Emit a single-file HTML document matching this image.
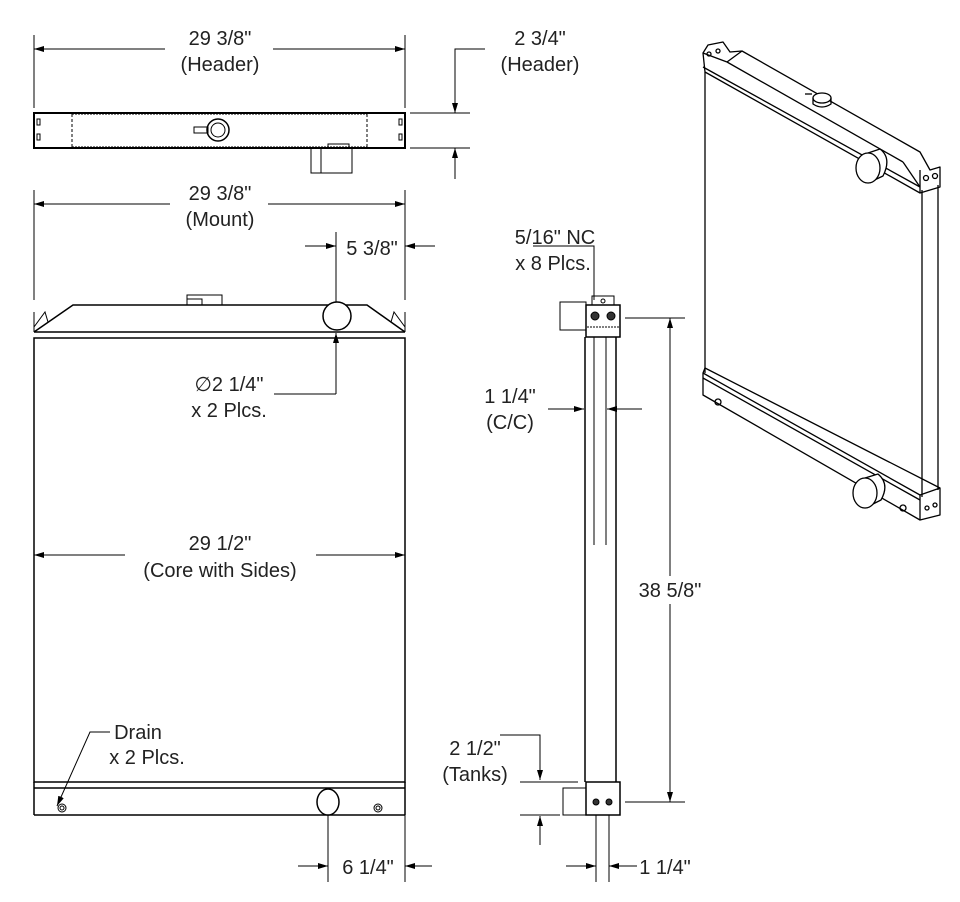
<!DOCTYPE html>
<html><head><meta charset="utf-8"><style>
html,body{margin:0;padding:0;background:#fff}
svg{display:block}
text{font-family:"Liberation Sans",sans-serif;font-size:20px;fill:#222;text-anchor:middle}
</style></head><body>
<svg width="960" height="902" viewBox="0 0 960 902" xmlns="http://www.w3.org/2000/svg">
<defs>
<marker id="a" viewBox="0 0 10 6" refX="10" refY="3" markerWidth="10" markerHeight="6" orient="auto-start-reverse" markerUnits="userSpaceOnUse"><path d="M0,0 L10,3 L0,6z" fill="#000"/></marker>
</defs>
<g stroke="#000" fill="none" stroke-width="1">
<line x1="34" y1="35" x2="34" y2="108"/><line x1="405" y1="35" x2="405" y2="108"/>
<line x1="34" y1="49" x2="165" y2="49" marker-start="url(#a)"/><line x1="273" y1="49" x2="405" y2="49" marker-end="url(#a)"/>
<rect x="34" y="113" width="371" height="35" stroke-width="2"/>
<line x1="72" y1="114" x2="72" y2="147" stroke-dasharray="3,2"/><line x1="367" y1="114" x2="367" y2="147" stroke-dasharray="3,2"/>
<line x1="72" y1="114" x2="367" y2="114" stroke-dasharray="2,1"/><line x1="72" y1="147" x2="367" y2="147" stroke-dasharray="2,1"/>
<rect x="37" y="119" width="3" height="6"/><rect x="37" y="134" width="3" height="6"/><rect x="399" y="119" width="3" height="6"/><rect x="399" y="134" width="3" height="6"/>
<circle cx="218" cy="130" r="11" stroke-width="1.5"/><circle cx="218" cy="130" r="7"/>
<rect x="194" y="127" width="14" height="6"/>
<rect x="311" y="148" width="41" height="25"/><line x1="321" y1="148" x2="321" y2="173"/><rect x="328" y="144" width="21" height="4"/>
<polyline points="485,49 455,49 455,113" marker-end="url(#a)"/>
<line x1="410" y1="113" x2="470" y2="113"/><line x1="410" y1="148" x2="470" y2="148"/>
<line x1="455" y1="179" x2="455" y2="148" marker-end="url(#a)"/>
<line x1="34" y1="190" x2="34" y2="300"/><line x1="405" y1="190" x2="405" y2="300"/>
<line x1="34" y1="204" x2="170" y2="204" marker-start="url(#a)"/><line x1="268" y1="204" x2="405" y2="204" marker-end="url(#a)"/>
<line x1="336" y1="232" x2="336" y2="303"/>
<line x1="305" y1="246" x2="336" y2="246" marker-end="url(#a)"/>
<line x1="435" y1="246" x2="405" y2="246" marker-end="url(#a)"/>
<polyline points="34,332 73,305 367,305 405,332" stroke-width="1.5"/>
<path d="M34,312 L34,332 M405,312 L405,332 M34,327 L45,312 L48,322 M405,327 L394,312 L391,322"/>
<rect x="187" y="295" width="35" height="10"/><rect x="187" y="299" width="15" height="6"/>
<line x1="34" y1="332" x2="405" y2="332" stroke-width="1.5"/>
<rect x="34" y="338" width="371" height="444" stroke-width="1.5"/>
<line x1="34" y1="788" x2="405" y2="788" stroke-width="1.5"/>
<line x1="34" y1="782" x2="34" y2="815" stroke-width="1.5"/><line x1="405" y1="782" x2="405" y2="815" stroke-width="1.5"/>
<line x1="34" y1="815" x2="405" y2="815" stroke-width="1.5"/>
<circle cx="337" cy="316" r="14" stroke-width="1.5" fill="#fff"/>
<line x1="336" y1="394" x2="336" y2="333" marker-end="url(#a)"/>
<line x1="274" y1="394" x2="336" y2="394"/>
<line x1="34" y1="555" x2="125" y2="555" marker-start="url(#a)"/><line x1="316" y1="555" x2="405" y2="555" marker-end="url(#a)"/>
<ellipse cx="328" cy="802" rx="11" ry="13" stroke-width="1.5" fill="#fff"/>
<circle cx="62" cy="808" r="4"/><circle cx="62" cy="808" r="2"/>
<circle cx="378" cy="808" r="4"/><circle cx="378" cy="808" r="2"/>
<polyline points="110,732 90,732 57,806" marker-end="url(#a)"/>
<line x1="328" y1="815" x2="328" y2="882"/><line x1="405" y1="815" x2="405" y2="882"/>
<line x1="298" y1="866" x2="328" y2="866" marker-end="url(#a)"/>
<line x1="432" y1="866" x2="405" y2="866" marker-end="url(#a)"/>
<polyline points="533,246 594,246 594,300"/>
<line x1="585" y1="337" x2="585" y2="782" stroke-width="1.5"/><line x1="616" y1="337" x2="616" y2="782" stroke-width="1.5"/>
<line x1="594" y1="337" x2="594" y2="545"/><line x1="606" y1="337" x2="606" y2="545"/>
<rect x="586" y="305" width="34" height="32" stroke-width="1.5"/>
<rect x="592" y="296" width="22" height="9"/><circle cx="603" cy="301" r="2"/>
<circle cx="595" cy="316" r="4" fill="#333"/><circle cx="611" cy="316" r="4" fill="#333"/>
<line x1="587" y1="327" x2="619" y2="327" stroke-dasharray="2,1"/>
<rect x="560" y="302" width="26" height="28"/>
<line x1="625" y1="318" x2="685" y2="318"/><line x1="625" y1="802" x2="685" y2="802"/>
<line x1="670" y1="578" x2="670" y2="318" marker-end="url(#a)"/><line x1="670" y1="604" x2="670" y2="802" marker-end="url(#a)"/>
<line x1="548" y1="409" x2="584" y2="409" marker-end="url(#a)"/><line x1="642" y1="409" x2="607" y2="409" marker-end="url(#a)"/>
<rect x="586" y="782" width="34" height="33" stroke-width="1.5"/>
<circle cx="596" cy="802" r="3" fill="#333"/><circle cx="609" cy="802" r="3" fill="#333"/>
<rect x="563" y="788" width="23" height="27"/>
<polyline points="500,735 540,735 540,780" marker-end="url(#a)"/>
<line x1="520" y1="782" x2="578" y2="782"/><line x1="520" y1="815" x2="560" y2="815"/>
<line x1="540" y1="845" x2="540" y2="816" marker-end="url(#a)"/>
<line x1="596" y1="815" x2="596" y2="882"/><line x1="609" y1="815" x2="609" y2="882"/>
<line x1="566" y1="866" x2="596" y2="866" marker-end="url(#a)"/><line x1="637" y1="866" x2="609" y2="866" marker-end="url(#a)"/>
<g stroke-width="1.3" stroke-linejoin="round">
<line x1="705" y1="72" x2="705" y2="373"/>
<line x1="922" y1="190" x2="922" y2="497"/><line x1="938" y1="185" x2="938" y2="490"/>
<polygon points="703,53 708,45 723,42 730,52 742,51 920,152 930,170 940,167 940,187 920,193 705,72"/>
<line x1="703" y1="67" x2="920" y2="187"/>
<line x1="727" y1="62" x2="903" y2="162"/>
<line x1="703" y1="53" x2="727" y2="62"/><line x1="742" y1="51" x2="727" y2="62"/>
<line x1="903" y1="162" x2="920" y2="187"/><line x1="920" y1="170" x2="920" y2="193"/>
<circle cx="709" cy="54" r="2"/><circle cx="718" cy="51" r="2"/>
<circle cx="926" cy="178" r="2.5"/><circle cx="935" cy="176" r="2.5"/>
<path d="M805,94 L812,94" /><ellipse cx="822" cy="98" rx="9" ry="5" fill="#fff"/><path d="M813,98 L813,104 Q822,110 831,104 L831,98"/>
<path d="M868,153 L880,149 Q892,158 883,176 L868,183" fill="#fff"/>
<ellipse cx="868" cy="168" rx="12" ry="15" fill="#fff"/>
<polygon points="703,373 705,368 940,488 940,515 920,520 703,395"/>
<line x1="703" y1="373" x2="920" y2="495"/><line x1="703" y1="378" x2="920" y2="500"/>
<line x1="920" y1="495" x2="920" y2="520"/><line x1="920" y1="495" x2="940" y2="488"/>
<path d="M865,478 L878,474 Q890,484 881,500 L865,508" fill="#fff"/>
<ellipse cx="865" cy="493" rx="12" ry="15" fill="#fff"/>
<circle cx="718" cy="402" r="3"/><circle cx="903" cy="508" r="3"/>
<circle cx="927" cy="508" r="2"/><circle cx="935" cy="505" r="2"/>
</g>
</g>
<rect x="628" y="576" width="84" height="28" fill="#fff"/>
<text x="220" y="45">29 3/8"</text><text x="220" y="71">(Header)</text>
<text x="540" y="45">2 3/4"</text><text x="540" y="71">(Header)</text>
<text x="220" y="200">29 3/8"</text><text x="220" y="226">(Mount)</text>
<text x="372" y="255">5 3/8"</text>
<text x="555" y="244">5/16" NC</text><text x="553" y="270">x 8 Plcs.</text>
<text x="229" y="391">∅2 1/4"</text><text x="229" y="417">x 2 Plcs.</text>
<text x="510" y="403">1 1/4"</text><text x="510" y="429">(C/C)</text>
<text x="220" y="550">29 1/2"</text><text x="220" y="577">(Core with Sides)</text>
<text x="670" y="597">38 5/8"</text>
<text x="138" y="739">Drain</text><text x="147" y="764">x 2 Plcs.</text>
<text x="475" y="755">2 1/2"</text><text x="475" y="781">(Tanks)</text>
<text x="368" y="874">6 1/4"</text><text x="665" y="874">1 1/4"</text>
</svg>
</body></html>
